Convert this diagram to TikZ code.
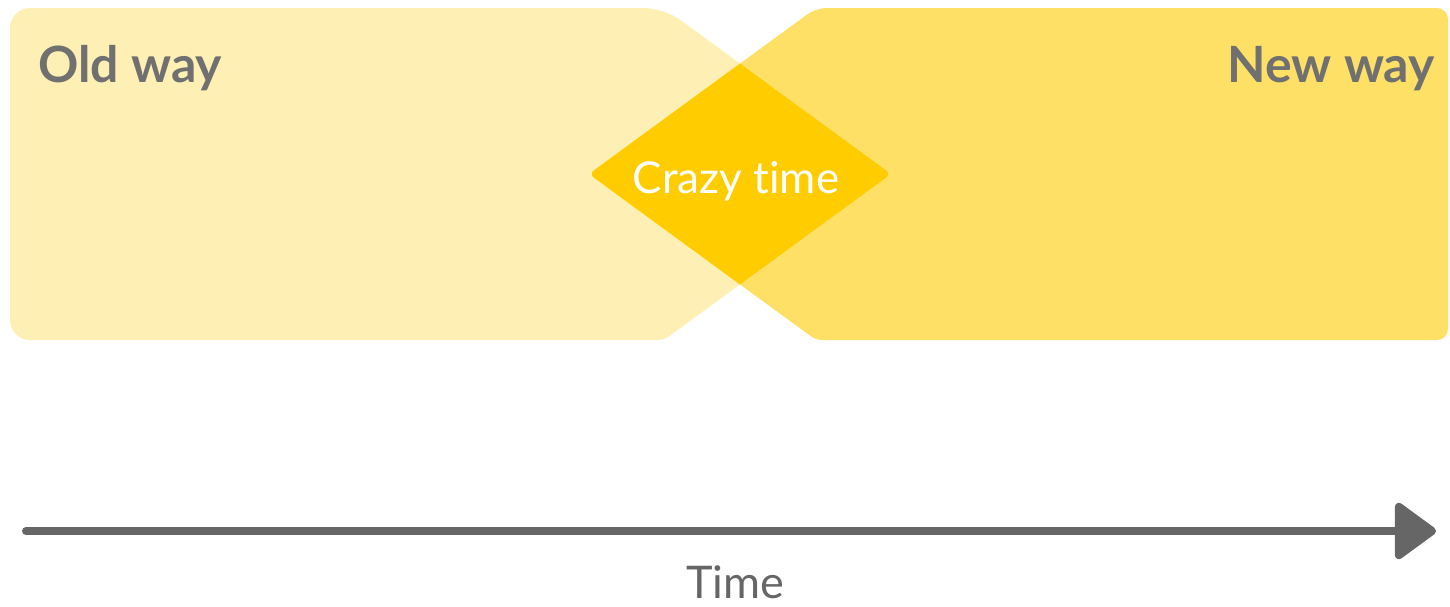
\documentclass[tikz,border=0pt]{standalone}
\usepackage{fontspec}
\setmainfont{Lato}[Ligatures=NoCommon]
\usetikzlibrary{arrows.meta}
\definecolor{oldfill}{HTML}{FEF0B4}
\definecolor{newfill}{HTML}{FFE066}
\definecolor{overlapfill}{HTML}{FFCC00}
\definecolor{ink}{HTML}{707070}
\definecolor{axisgray}{HTML}{666666}
\begin{document}
\begin{tikzpicture}[x=1pt,y=-1pt,
  label/.style={inner sep=0pt,text=ink,font=\fontsize{50}{60}\selectfont\bfseries},
  phase/.style={inner sep=0pt,text=white,font=\fontsize{44}{52}\selectfont},
  axislabel/.style={inner sep=0pt,text=axisgray,font=\fontsize{45}{54}\selectfont},
  axisline/.style={draw=axisgray,line width=8pt,line cap=round,
    -{Triangle[length=44pt,width=62pt,round]}}]
\useasboundingbox (0,0) rectangle (1450,606);
% the two periods, overlapping in the middle
\def\oldpath{(10,174) [rounded corners=20pt] |- (664,8) [rounded corners=6pt] -- (891,174) -- (664,340) [rounded corners=20pt] -| (10,174) -- cycle}
\def\newpath{(1448,174) [rounded corners=11pt] |- (816,8) [rounded corners=6pt] -- (589,174) -- (816,340) [rounded corners=11pt] -| (1448,174) -- cycle}
\fill[oldfill] \oldpath;
\fill[newfill] \newpath;
\begin{scope}
  \clip \oldpath;
  \fill[overlapfill] \newpath;
\end{scope}
\node[label,anchor=base west] (old) at (38,82) {Old way};
\node[label,anchor=base east] (new) at (1435,82) {New way};
\node[phase,anchor=base] (crazy) at (736,193) {Crazy time};
% time axis
\coordinate (t0) at (26,531);
\coordinate (t1) at (1436,531);
\draw[axisline] (t0) -- (t1);
\node[axislabel,anchor=base] (time) at (735,598) {Time};
\end{tikzpicture}
\end{document}
